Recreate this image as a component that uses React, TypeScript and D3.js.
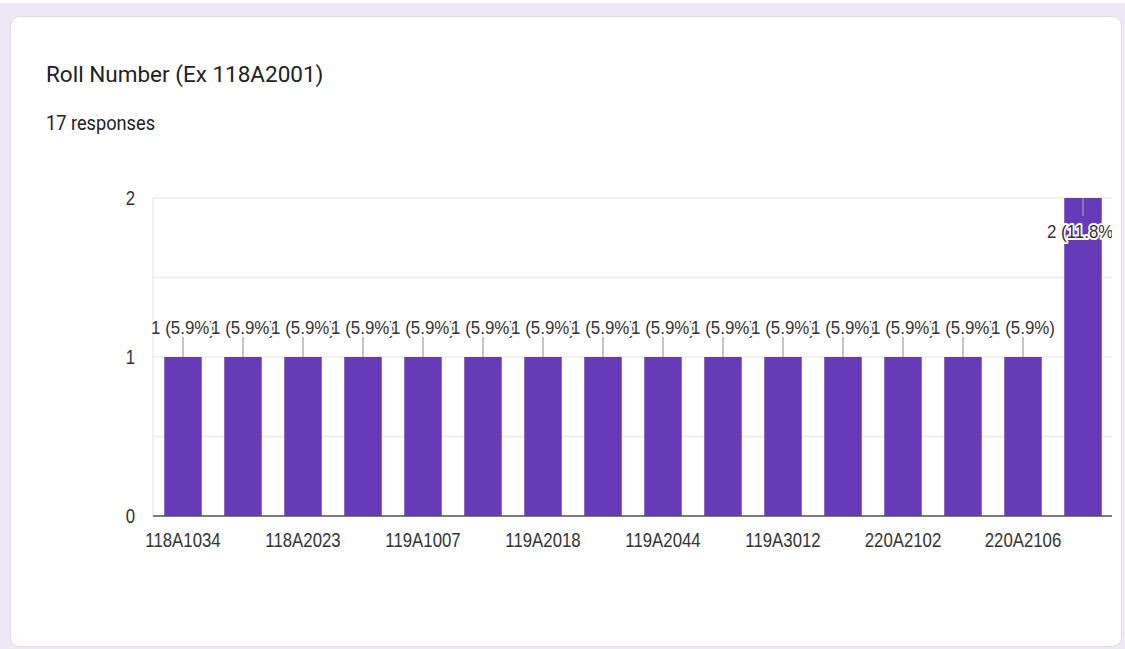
import React from "react";
import * as d3 from "d3";

const title = "Roll Number (Ex 118A2001)";
const subtitle = "17 responses";
const categories = [
  "118A1034", "118A2010", "118A2023", "119A1003", "119A1007", "119A2007",
  "119A2018", "119A2031", "119A2044", "119A3004", "119A3012", "119A3025",
  "220A2102", "220A2104", "220A2106", "220A2110",
];
const counts = [1, 1, 1, 1, 1, 1, 1, 1, 1, 1, 1, 1, 1, 1, 1, 2];
const total = 17;
const yTicks = [0, 1, 2];
const gridTicks = [0, 0.5, 1, 1.5, 2];

const W = 1125;
const H = 649;
const plot = { left: 153, right: 1113, top: 198, bottom: 516 };
const CHART_FONT = "'Liberation Sans', Arial, sans-serif";
const BAR = "#673ab7";

export default function App() {
  const x = d3.scaleBand<string>().domain(categories).range([plot.left, plot.right]).paddingInner(0.375).paddingOuter(0.1875);
  const y = d3.scaleLinear().domain([0, 2]).range([plot.bottom, plot.top]);
  const fmt = (v: number) => `${v} (${d3.format(".1f")((v / total) * 100)}%)`;

  return (
    <svg width={W} height={H} style={{ position: "absolute", left: 0, top: 0, display: "block" }}>
      <defs>
        <clipPath id="plotclip">
          <rect x={plot.left - 4} y={0} width={plot.right - 1 - plot.left + 4} height={H} />
        </clipPath>
      </defs>
      <rect x={0} y={0} width={W} height={H} fill="#ffffff" />
      <rect x={0} y={3} width={W} height={H} fill="#ede9f7" />
      <rect x={10.5} y={16.5} width={1111} height={630} rx={9} fill="#ffffff" stroke="#dcdce4" strokeWidth={1} />

      <text x={46} y={82} fontFamily="Roboto, sans-serif" fontSize={22.5} fill="#202124">{title}</text>
      <text transform={`translate(46,130) scale(0.91,1)`} fontFamily="Roboto, sans-serif" fontSize={20} fill="#202124">{subtitle}</text>

      {gridTicks.map((t) => (
        <line key={t} x1={plot.left} x2={plot.right - 1} y1={y(t)} y2={y(t)} stroke="#ececec" strokeWidth={1.5} />
      ))}
      <line x1={plot.left} x2={plot.left} y1={plot.top} y2={plot.bottom} stroke="#ececec" strokeWidth={1.5} />

      {categories.map((c, i) => (
        <rect key={c} x={x(c)!} y={y(counts[i])} width={x.bandwidth()} height={y(0) - y(counts[i])} fill={BAR} />
      ))}

      <line x1={plot.left} x2={plot.right - 1} y1={y(0)} y2={y(0)} stroke="#555" strokeWidth={1.5} />

      {yTicks.map((t) => (
        <text key={t} transform={`translate(135,${y(t) + 7}) scale(0.84,1)`} textAnchor="end" fontFamily={CHART_FONT} fontSize={20} fill="#333">{t}</text>
      ))}

      {categories.map((c, i) =>
        i % 2 === 0 ? (
          <text key={c} transform={`translate(${x(c)! + x.bandwidth() / 2},547) scale(0.84,1)`} textAnchor="middle" fontFamily={CHART_FONT} fontSize={20} fill="#333">{c}</text>
        ) : null
      )}

      <g clipPath="url(#plotclip)">
        {categories.map((c, i) => {
          const cx = x(c)! + x.bandwidth() / 2;
          const top = y(counts[i]);
          const inside = counts[i] === 2;
          const lineY1 = inside ? top : top - 20;
          const lineY2 = inside ? top + 18 : top;
          const textY = inside ? top + 40 : top - 23;
          return (
            <g key={c}>
              <line x1={cx} x2={cx} y1={lineY1} y2={lineY2} stroke="#9e9e9e" strokeWidth={1.2} />
              <text transform={`translate(${cx},${textY}) scale(0.89,1)`} textAnchor="middle" fontFamily={CHART_FONT} fontSize={19} fill="#333" stroke="#ffffff" strokeWidth={4} paintOrder="stroke" strokeLinejoin="round">{fmt(counts[i])}</text>
            </g>
          );
        })}
      </g>
    </svg>
  );
}
